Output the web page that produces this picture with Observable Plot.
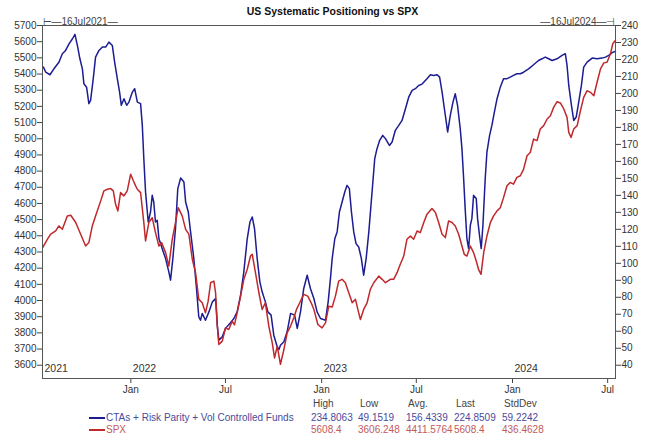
<!DOCTYPE html>
<html>
<head>
<meta charset="utf-8">
<script src="https://cdn.jsdelivr.net/npm/d3@7"></script>
<script src="https://cdn.jsdelivr.net/npm/@observablehq/plot@0.6"></script>
<style>
  html, body { margin: 0; padding: 0; background: #fff; }
  #wrap { position: relative; width: 665px; height: 448px; font-family: "Liberation Sans", Arial, sans-serif; }
  #title { position: absolute; top: 5px; left: 0; width: 665px; text-align: center; font-weight: bold; font-size: 10.5px; color: #111; }
  #chart { position: absolute; top: 0; left: 0; }
  .lg { position: absolute; font-size: 10px; white-space: nowrap; line-height: 12px; }
  .sw { position: absolute; height: 2px; width: 16px; }
</style>
</head>
<body>
<div id="wrap">
  <div id="chart"></div>
  <div id="title">US Systematic Positioning vs SPX</div>
  <div id="legend"></div>
</div>
<script>
// ---- Data (dates as decimal years) ----
const seriesNames = ["CTAs + Risk Parity + Vol Controlled Funds", "SPX"];
const statHeaders = ["High", "Low", "Avg.", "Last", "StdDev"];
const ctaStats = ["234.8063", "49.1519", "156.4339", "224.8509", "59.2242"];
const spxStats = ["5608.4", "3606.248", "4411.5764", "5608.4", "436.4628"];

const spxT = [2021.538,2021.563,2021.580,2021.606,2021.623,2021.641,2021.667,2021.685,2021.711,2021.737,2021.763,2021.780,2021.798,2021.815,2021.842,2021.859,2021.877,2021.894,2021.908,2021.920,2021.932,2021.946,2021.964,2021.981,2021.999,2022.013,2022.025,2022.034,2022.051,2022.068,2022.077,2022.094,2022.112,2022.129,2022.147,2022.161,2022.182,2022.199,2022.217,2022.234,2022.248,2022.269,2022.287,2022.304,2022.322,2022.339,2022.356,2022.374,2022.391,2022.405,2022.418,2022.435,2022.444,2022.453,2022.461,2022.479,2022.496,2022.513,2022.531,2022.543,2022.557,2022.575,2022.592,2022.610,2022.627,2022.636,2022.653,2022.671,2022.688,2022.705,2022.723,2022.741,2022.753,2022.767,2022.784,2022.802,2022.819,2022.837,2022.854,2022.868,2022.885,2022.906,2022.927,2022.945,2022.959,2022.980,2023.002,2023.020,2023.037,2023.055,2023.072,2023.089,2023.107,2023.124,2023.142,2023.160,2023.177,2023.194,2023.203,2023.220,2023.238,2023.255,2023.273,2023.299,2023.317,2023.334,2023.360,2023.377,2023.395,2023.412,2023.430,2023.447,2023.465,2023.482,2023.500,2023.517,2023.535,2023.552,2023.578,2023.596,2023.613,2023.631,2023.648,2023.665,2023.683,2023.700,2023.718,2023.735,2023.747,2023.761,2023.779,2023.796,2023.810,2023.822,2023.835,2023.849,2023.866,2023.884,2023.901,2023.919,2023.936,2023.953,2023.971,2023.988,2024.005,2024.023,2024.041,2024.058,2024.076,2024.093,2024.110,2024.128,2024.145,2024.163,2024.181,2024.198,2024.215,2024.233,2024.250,2024.268,2024.285,2024.294,2024.306,2024.320,2024.338,2024.355,2024.372,2024.390,2024.407,2024.425,2024.442,2024.460,2024.477,2024.494,2024.512,2024.524,2024.538];
const spxV = [4327,4379,4410,4430,4461,4440,4523,4527,4482,4410,4337,4358,4461,4523,4616,4678,4688,4692,4678,4595,4554,4667,4647,4678,4781,4740,4709,4688,4667,4482,4368,4482,4512,4420,4337,4358,4296,4213,4379,4482,4574,4523,4440,4410,4255,4172,4007,3986,3924,3996,4110,4120,4048,3842,3728,3749,3831,3821,3872,3850,3924,4027,4131,4193,4275,4286,4172,4048,3945,3986,3842,3738,3645,3718,3606,3697,3800,3842,3893,3945,3986,4038,4027,3986,3945,3852,3831,3862,3965,3960,4027,4120,4131,4110,4048,3986,4007,3924,3883,3945,3986,4069,4110,4151,4131,4110,4131,4131,4172,4224,4275,4379,4399,4379,4430,4420,4482,4534,4569,4544,4482,4410,4389,4492,4482,4461,4410,4337,4286,4275,4337,4296,4244,4193,4162,4296,4399,4482,4523,4554,4574,4636,4709,4730,4719,4761,4771,4812,4895,4915,4998,4988,5060,5081,5122,5142,5194,5229,5221,5184,5132,5039,5008,5060,5081,5173,5256,5297,5287,5266,5349,5432,5469,5473,5525,5587,5608.4];

const ctaT = [2021.542,2021.554,2021.576,2021.597,2021.623,2021.641,2021.658,2021.676,2021.694,2021.707,2021.720,2021.733,2021.746,2021.754,2021.768,2021.780,2021.789,2021.803,2021.815,2021.833,2021.851,2021.868,2021.885,2021.903,2021.915,2021.929,2021.941,2021.950,2021.964,2021.978,2021.990,2022.008,2022.020,2022.034,2022.051,2022.060,2022.068,2022.077,2022.091,2022.103,2022.112,2022.120,2022.129,2022.138,2022.147,2022.164,2022.182,2022.199,2022.208,2022.220,2022.234,2022.246,2022.261,2022.278,2022.287,2022.301,2022.313,2022.330,2022.344,2022.356,2022.365,2022.374,2022.391,2022.409,2022.427,2022.444,2022.453,2022.461,2022.479,2022.496,2022.522,2022.540,2022.557,2022.575,2022.592,2022.610,2022.624,2022.636,2022.648,2022.662,2022.676,2022.688,2022.705,2022.718,2022.735,2022.749,2022.767,2022.776,2022.784,2022.802,2022.819,2022.837,2022.858,2022.872,2022.889,2022.906,2022.924,2022.941,2022.959,2022.976,2022.994,2023.020,2023.034,2023.046,2023.055,2023.069,2023.081,2023.093,2023.107,2023.121,2023.133,2023.145,2023.156,2023.168,2023.180,2023.194,2023.208,2023.220,2023.233,2023.247,2023.264,2023.278,2023.290,2023.304,2023.320,2023.334,2023.355,2023.369,2023.386,2023.404,2023.421,2023.439,2023.456,2023.474,2023.491,2023.508,2023.526,2023.552,2023.570,2023.587,2023.605,2023.618,2023.631,2023.643,2023.653,2023.660,2023.674,2023.688,2023.700,2023.712,2023.726,2023.735,2023.743,2023.752,2023.761,2023.770,2023.779,2023.787,2023.796,2023.810,2023.817,2023.827,2023.836,2023.845,2023.857,2023.866,2023.880,2023.892,2023.905,2023.919,2023.936,2023.953,2023.971,2023.988,2024.005,2024.023,2024.041,2024.058,2024.084,2024.110,2024.136,2024.154,2024.171,2024.189,2024.207,2024.233,2024.259,2024.276,2024.285,2024.294,2024.308,2024.320,2024.333,2024.346,2024.360,2024.372,2024.390,2024.416,2024.442,2024.468,2024.486,2024.503,2024.521,2024.538];
const ctaV = [215.5,212.5,211,214.5,218.4,223.4,225.3,229.2,232.2,234.8,228.2,220.4,214.5,205.7,203.7,194,195.9,208.7,221.4,225.3,227.3,227.3,230.2,228.2,218.4,208.7,200.8,193,196.9,193,194.9,200.8,202.8,194.9,194,181.2,161.6,142,124.3,130.2,140,136.1,124.3,125.3,114.6,108.7,102.8,95,90.1,102.8,120.5,144,150.2,147.9,136.1,130.2,118.5,102.8,85.2,68.4,66.5,70.5,66.5,71.4,77.3,79.3,63.6,54.8,56.7,61.7,65,67.5,71.4,81.2,95,114.6,124.3,127.3,120.5,102.8,89.1,83.2,77.3,71.4,69.5,57.7,50.9,49.2,51.8,53.8,59.7,70.5,69.5,61.7,71.4,85.2,93,85.2,79.3,71.4,67.5,66.5,77.3,91.1,102.8,114.6,118.5,130.2,136.1,142,145.9,144,130.2,118.5,111.6,109.6,102.8,93,102.8,118.5,142,161.6,167.5,172.4,175.3,173.4,169.4,171.4,178.3,181.2,184.1,191,197.8,201.8,202.8,204.7,205.5,208.7,211,210.6,211,209.6,200.8,191,183.1,177.3,187.1,194.9,199.8,193,179.3,167.5,151.8,132.2,114.6,108.7,122.4,126.3,140,138.1,126.3,116.5,108.7,122.4,149.9,165.5,175.3,181.2,189,196.9,203.7,208.7,208.7,209.6,210.6,211.6,211.6,212.5,214.5,216.9,219.4,220.4,221.4,220.4,219.4,220.4,222.4,223.4,216.5,204.7,193,184.1,186.1,194.9,204.7,215.5,218.4,220.8,220.4,220.8,221.4,222.4,224,224.85];

const leftTicks = d3.range(3600, 5701, 100);
const rightTicks = d3.range(40, 241, 10);
const monthTicks = ["2022-01-01","2022-07-01","2023-01-01","2023-07-01","2024-01-01","2024-07-01"];
const yearLabels = ["2021","2022","2023","2024"];
const startDate = "2021-07-16", endDate = "2024-07-16";
const startLabel = "16Jul2021", endLabel = "16Jul2024";

// ---- helpers ----
function fromDecimal(t) {
  const y = Math.floor(t);
  const s = Date.UTC(y, 0, 1), e = Date.UTC(y + 1, 0, 1);
  return new Date(s + (t - y) * (e - s));
}
const toLeft = v => 3600 + (v - 40) * 10.5;
const fromLeft = v => 40 + (v - 3600) / 10.5;
const d0 = new Date(startDate), d1 = new Date(endDate);

const spx = spxT.map((t, i) => ({date: fromDecimal(t), value: spxV[i]}));
const cta = ctaT.map((t, i) => ({date: fromDecimal(t), value: ctaV[i]}));
const years = yearLabels.map((y, i) => ({date: i === 0 ? d0 : new Date(y + "-01-01"), label: y}));

const BLUE = "#1c1c93", RED = "#c0282c";

const chart = Plot.plot({
  width: 665, height: 400,
  marginLeft: 42, marginRight: 50, marginTop: 25, marginBottom: 22,
  x: {type: "utc", domain: [d0, d1]},
  y: {domain: [3518, 5700]},
  style: {fontFamily: "'Liberation Sans', Arial, sans-serif", fontSize: "10px", color: "#333", background: "#fff"},
  marks: [
    Plot.axisY(leftTicks, {anchor: "left", tickSize: 5, tickPadding: 1, label: null, tickFormat: d => String(d), stroke: "#444"}),
    Plot.axisY(rightTicks.map(toLeft), {anchor: "right", tickSize: 5, tickPadding: 1, label: null, tickFormat: d => String(Math.round(fromLeft(d))), stroke: "#444"}),
    Plot.axisX(monthTicks.map(d => new Date(d)), {anchor: "bottom", tickSize: 5, tickPadding: 2, label: null, tickFormat: d => d.getUTCMonth() === 0 ? "Jan" : "Jul", stroke: "#444"}),
    Plot.line(cta, {x: "date", y: d => toLeft(d.value), stroke: BLUE, strokeWidth: 1.5}),
    Plot.line(spx, {x: "date", y: "value", stroke: RED, strokeWidth: 1.5}),
    Plot.frame({stroke: "#555"}),
    Plot.text(years, {x: "date", text: "label", frameAnchor: "bottom", dy: -7, dx: 2, textAnchor: "start", fill: "#333", fontSize: 10.5}),
    Plot.text([d0], {x: d => d, text: () => "\u22A2\u2014" + startLabel + "\u2014", frameAnchor: "top", dy: -8, textAnchor: "start", fill: "#444", fontSize: 10}),
    Plot.text([d1], {x: d => d, text: () => "\u2014" + endLabel + "\u2014\u22A3", frameAnchor: "top", dy: -8, textAnchor: "end", fill: "#444", fontSize: 10})
  ]
});
document.getElementById("chart").appendChild(chart);

// ---- Legend ----
const lg = document.getElementById("legend");
const cols = [311, 358, 406, 454, 502];
function addText(txt, x, y, color) {
  const s = document.createElement("div");
  s.className = "lg"; s.textContent = txt;
  s.style.left = x + "px"; s.style.top = y + "px"; s.style.color = color;
  lg.appendChild(s);
}
statHeaders.forEach((h, i) => addText(h, cols[i] + 2, 398, "#444"));
const rows = [
  {name: seriesNames[0], stats: ctaStats, line: BLUE, text: "#4a4a9c", y: 412},
  {name: seriesNames[1], stats: spxStats, line: RED, text: "#c25a5a", y: 424}
];
rows.forEach(r => {
  const sw = document.createElement("div");
  sw.className = "sw"; sw.style.left = "89px"; sw.style.top = (r.y + 5) + "px"; sw.style.background = r.line;
  lg.appendChild(sw);
  addText(r.name, 106, r.y, r.text);
  r.stats.forEach((v, i) => addText(v, cols[i], r.y, r.text));
});
</script>
</body>
</html>
